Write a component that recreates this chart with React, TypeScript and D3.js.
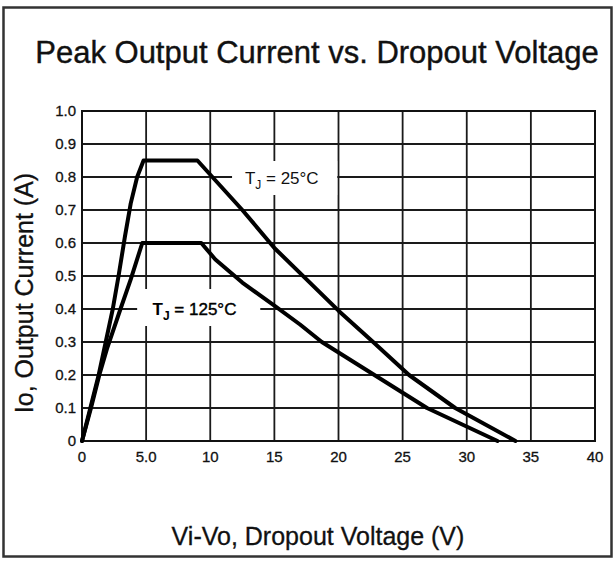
import React from "react";
import * as d3 from "d3";

const WIDTH = 615;
const HEIGHT = 561;

// T_J = 25°C curve (dropout voltage V, peak output current A)
const voltage25 = [0, 0.65, 1.3, 1.85, 2.4, 2.85, 3.35, 3.8, 4.3, 4.8, 9.0, 12.5, 15, 20, 22.7, 25.5, 29.1, 33.8];
const current25 = [0, 0.1, 0.2, 0.3, 0.4, 0.5, 0.62, 0.72, 0.8, 0.85, 0.85, 0.7, 0.585, 0.395, 0.3, 0.2, 0.1, 0];

// T_J = 125°C curve
const voltage125 = [0, 0.7, 1.35, 1.95, 3.0, 3.8, 4.7, 9.3, 10.4, 12.5, 15, 17, 18.7, 22.8, 26.9, 32.4];
const current125 = [0, 0.1, 0.2, 0.28, 0.4, 0.49, 0.6, 0.6, 0.55, 0.48, 0.41, 0.353, 0.3, 0.2, 0.1, 0];

const xTicks = [0, 5, 10, 15, 20, 25, 30, 35, 40];
const xTickLabels = ["0", "5.0", "10", "15", "20", "25", "30", "35", "40"];
const yTicks = [0, 0.1, 0.2, 0.3, 0.4, 0.5, 0.6, 0.7, 0.8, 0.9, 1.0];
const yTickLabels = ["0", "0.1", "0.2", "0.3", "0.4", "0.5", "0.6", "0.7", "0.8", "0.9", "1.0"];

const FONT = "'Liberation Sans', Arial, Helvetica, sans-serif";

type Pt = [number, number];

export default function App() {
  const x = d3.scaleLinear().domain([0, 40]).range([82, 595]);
  const y = d3.scaleLinear().domain([0, 1]).range([441, 111]);

  const line = d3
    .line<Pt>()
    .x((d) => x(d[0]))
    .y((d) => y(d[1]));

  const pts25: Pt[] = voltage25.map((v, i) => [v, current25[i]]);
  const pts125: Pt[] = voltage125.map((v, i) => [v, current125[i]]);

  return (
    <svg
      width={WIDTH}
      height={HEIGHT}
      style={{ position: "absolute", left: 0, top: 0, background: "#fff" }}
      fontFamily={FONT}
    >
      <rect x={0} y={0} width={WIDTH} height={HEIGHT} fill="#fff" />
      <rect x={3.5} y={7.5} width={608} height={549} fill="none" stroke="#333" strokeWidth={2.5} />

      <text x={317} y={63} textAnchor="middle" fontSize={31} fill="#111" stroke="#111" strokeWidth={0.4}>
        Peak Output Current vs. Dropout Voltage
      </text>

      {/* grid */}
      <g stroke="#1a1a1a" strokeWidth={1.8}>
        {yTicks.map((t) => (
          <line key={"h" + t} x1={x(0)} x2={x(40)} y1={y(t)} y2={y(t)} />
        ))}
        {xTicks.map((t) => (
          <line key={"v" + t} x1={x(t)} x2={x(t)} y1={y(0)} y2={y(1)} />
        ))}
      </g>
      <rect x={x(0)} y={y(1)} width={x(40) - x(0)} height={y(0) - y(1)} fill="none" stroke="#111" strokeWidth={2} />

      {/* label boxes break the grid */}
      <rect x={x(11.7)} y={y(0.8) - 16} width={x(19.9) - x(11.7)} height={34} fill="#fff" />
      <rect x={x(4.3)} y={y(0.4) - 20} width={x(13.9) - x(4.3)} height={37} fill="#fff" />

      {/* curves */}
      <g fill="none" stroke="#000" strokeWidth={4} strokeLinejoin="round" strokeLinecap="round">
        <path d={line(pts25) ?? ""} />
        <path d={line(pts125) ?? ""} />
      </g>

      <text x={x(12.7)} y={y(0.8) + 7} fontSize={17} fill="#111">
        T<tspan fontSize={12} dy={5}>J</tspan>
        <tspan dy={-5}> = 25°C</tspan>
      </text>
      <text x={x(5.5)} y={y(0.4) + 6} fontSize={17} fill="#000" fontWeight="bold">
        T<tspan fontSize={12} dy={5}>J</tspan>
        <tspan dy={-5} fontWeight="normal" stroke="#000" strokeWidth={0.4}> = 125°C</tspan>
      </text>

      {/* tick labels */}
      <g fontSize={15} fill="#111" stroke="#111" strokeWidth={0.3}>
        {yTicks.map((t, i) => (
          <text key={"yl" + t} x={x(0) - 6} y={y(t)} dy="0.35em" textAnchor="end">
            {yTickLabels[i]}
          </text>
        ))}
        {xTicks.map((t, i) => (
          <text key={"xl" + t} x={x(t)} y={462} textAnchor="middle">
            {xTickLabels[i]}
          </text>
        ))}
      </g>

      <text
        transform={`translate(33,${293}) rotate(-90)`}
        textAnchor="middle"
        fontSize={25}
        fill="#111"
        stroke="#111"
        strokeWidth={0.3}
      >
        Io, Output Current (A)
      </text>
      <text x={318} y={545} textAnchor="middle" fontSize={25} fill="#111" stroke="#111" strokeWidth={0.3}>
        Vi-Vo, Dropout Voltage (V)
      </text>
    </svg>
  );
}
